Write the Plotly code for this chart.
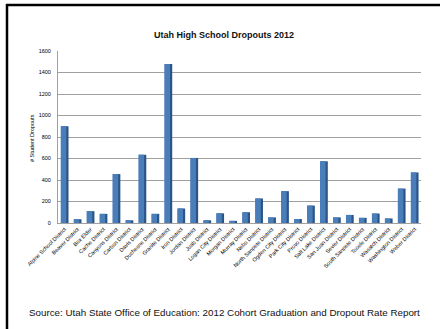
import plotly.graph_objects as go

districts = [
    "Alpine School District", "Beaver District", "Box Elder", "Cache District",
    "Canyons District", "Carbon District", "Davis District", "Duchesne District",
    "Granite District", "Iron District", "Jordan District", "Juab District",
    "Logan City District", "Morgan District", "Murray District", "Nebo District",
    "North Sanpete District", "Ogden City District", "Park City District",
    "Provo District", "Salt Lake District", "San Juan District", "Sevier District",
    "South Sanpete District", "Tooele District", "Wasatch District",
    "Washington District", "Weber District",
]
dropouts = [900, 35, 110, 85, 455, 25, 635, 85, 1480, 135, 605, 25, 90, 20,
            100, 228, 52, 296, 37, 162, 574, 52, 75, 48, 88, 42, 320, 470]
y_ticks = [0, 200, 400, 600, 800, 1000, 1200, 1400, 1600]

title_text = "Utah High School Dropouts 2012"
y_title = "# Student Dropouts"
source_text = "Source: Utah State Office of Education: 2012 Cohort Graduation and Dropout Rate Report"

L, R, T, B = 58, 19, 51, 106
W, H = 440, 329
pw, ph = W - L - R, H - T - B

def px_x(p):
    return (p - L) / pw

def px_y(p):
    return (H - B - p) / ph

fig = go.Figure()
# dark side face (3D look)
fig.add_trace(go.Bar(x=districts, y=dropouts, width=0.58, offset=-0.27,
                     marker=dict(color="#2B5587", line=dict(width=0)),
                     hoverinfo="skip", showlegend=False))
# front face
fig.add_trace(go.Bar(x=districts, y=dropouts, width=0.43, offset=-0.29,
                     marker=dict(color="#4A7EBB", line=dict(width=0)),
                     showlegend=False))

shapes = [
    dict(type="line", xref="paper", yref="paper", x0=px_x(6), x1=px_x(440),
         y0=px_y(5), y1=px_y(5), line=dict(color="black", width=2.5)),
    dict(type="line", xref="paper", yref="paper", x0=px_x(7), x1=px_x(7),
         y0=px_y(4), y1=px_y(329), line=dict(color="black", width=2.5)),
]

fig.update_layout(
    width=W, height=H,
    margin=dict(l=L, r=R, t=T, b=B),
    paper_bgcolor="white", plot_bgcolor="white",
    barmode="overlay",
    shapes=shapes,
    font=dict(family="Liberation Sans, Arial, sans-serif", color="#000"),
    annotations=[
        dict(text="<b>" + title_text + "</b>", xref="paper", yref="paper",
             x=px_x(224), y=px_y(35), showarrow=False,
             font=dict(size=9, color="#111"), xanchor="center", yanchor="middle"),
        dict(text=y_title, xref="paper", yref="paper", x=px_x(32), y=px_y(138),
             showarrow=False, textangle=-90, font=dict(size=5.5, color="#000"),
             xanchor="center", yanchor="middle"),
        dict(text=source_text, xref="paper", yref="paper", x=px_x(224), y=px_y(312),
             showarrow=False, font=dict(size=9.8, color="#111"),
             xanchor="center", yanchor="middle"),
    ],
)
fig.update_xaxes(tickangle=-45, tickfont=dict(size=5.5, color="#000"),
                 showgrid=False, showline=True, linecolor="#A0A0A0", linewidth=1,
                 ticks="", range=[-0.5, len(districts) - 0.5])
fig.update_yaxes(range=[0, 1600], tickvals=y_ticks, tickfont=dict(size=5.5, color="#000"),
                 showgrid=True, gridcolor="#A0A0A0", gridwidth=1,
                 showline=True, linecolor="#A0A0A0", linewidth=1,
                 ticks="outside", ticklen=5, tickcolor="rgba(0,0,0,0)",
                 zeroline=False)

fig.write_html("out.html")
